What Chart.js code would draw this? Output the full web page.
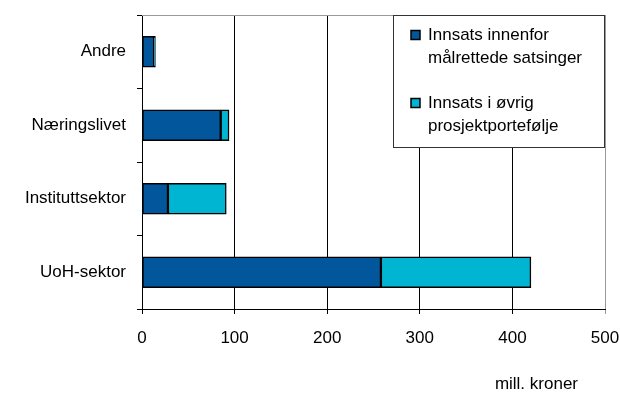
<!DOCTYPE html>
<html lang="no">
<head>
  <meta charset="UTF-8">
  <title>Innsats per sektor</title>
  <style>
    body {
      margin: 0;
      padding: 0;
      background: #fff;
    }

    #wrap {
      width: 620px;
      height: 394px;
      position: relative;
    }
  </style>
</head>
<body>
  <div id="wrap">
    <canvas id="chart" width="620" height="394"></canvas>
  </div>

  <script src="https://cdn.jsdelivr.net/npm/chart.js"></script>
  <script>
    // verdier lest av figuren (mill. kroner)
    const sektorer = ['Andre', 'Næringslivet', 'Instituttsektor', 'UoH-sektor'];
    const innenfor = [13, 85, 28, 258];
    const ovrig = [1.5, 9, 63, 162];
    const serieNavn = [['Innsats innenfor', 'målrettede satsinger'], ['Innsats i øvrig', 'prosjektportefølje']];
    const enhet = 'mill. kroner';

    const darkBlue = '#02569b';
    const cyan = '#00b5d1';
    const font = { family: "'Liberation Sans', Arial, sans-serif", size: 17 };

    // legend-boks og enhetstekst tegnes selv
    const extras = {
      id: 'extras',
      beforeDatasetsDraw(chart) {
        const { ctx, chartArea: a } = chart;
        ctx.save();
        ctx.strokeStyle = '#999';
        ctx.lineWidth = 1;
        ctx.beginPath();
        ctx.moveTo(a.left, a.top + 0.5);
        ctx.lineTo(a.right, a.top + 0.5);
        ctx.stroke();
        ctx.restore();
      },
      afterDraw(chart) {
        const { ctx, chartArea: a } = chart;
        ctx.save();
        const bx = a.right - 212, by = a.top, bw = 212, bh = 133;
        ctx.fillStyle = '#fff';
        ctx.fillRect(bx, by, bw, bh);
        ctx.strokeStyle = '#333';
        ctx.lineWidth = 1;
        ctx.strokeRect(bx + 0.5, by + 0.5, bw - 1, bh - 1);

        ctx.font = font.size + 'px ' + font.family;
        ctx.textBaseline = 'middle';
        ctx.textAlign = 'left';
        chart.data.datasets.forEach((ds, i) => {
          const y0 = by + 20 + i * 68;
          ctx.fillStyle = ds.backgroundColor;
          ctx.fillRect(bx + 18, y0 - 4.5, 9, 9);
          ctx.strokeStyle = '#000';
          ctx.lineWidth = 1.5;
          ctx.strokeRect(bx + 18, y0 - 4.5, 9, 9);
          ctx.fillStyle = '#000';
          serieNavn[i].forEach((line, j) => {
            ctx.fillText(line, bx + 35, y0 + j * 23);
          });
        });

        ctx.textAlign = 'right';
        ctx.textBaseline = 'alphabetic';
        ctx.fillText(enhet, a.right - 27, 389);
        ctx.restore();
      }
    };

    new Chart(document.getElementById('chart'), {
      type: 'bar',
      data: {
        labels: sektorer,
        datasets: [
          {
            label: serieNavn[0].join(' '),
            data: innenfor,
            backgroundColor: darkBlue,
            borderColor: '#000',
            borderWidth: 1.5,
            borderSkipped: false,
            barThickness: 31
          },
          {
            label: serieNavn[1].join(' '),
            data: ovrig,
            backgroundColor: cyan,
            borderColor: '#000',
            borderWidth: 1.5,
            borderSkipped: false,
            barThickness: 31
          }
        ]
      },
      options: {
        indexAxis: 'y',
        responsive: false,
        animation: false,
        layout: { padding: { top: 15, right: 15, left: 0, bottom: 0 } },
        plugins: {
          legend: { display: false },
          tooltip: { enabled: false }
        },
        scales: {
          x: {
            stacked: true,
            min: 0,
            max: 500,
            afterFit(scale) {
              scale.height = 85;
              scale.paddingLeft = 0;
              scale.paddingRight = 0;
            },
            ticks: { stepSize: 100, color: '#000', font: font, padding: 14 },
            grid: {
              color: (c) => (c.tick && c.tick.value === 500 ? '#999' : '#000'),
              tickLength: 5
            },
            border: { color: '#000', width: 1 }
          },
          y: {
            stacked: true,
            afterFit(scale) {
              scale.width = 142;
              scale.paddingTop = 0;
              scale.paddingBottom = 0;
            },
            ticks: { color: '#000', font: font, padding: 11 },
            grid: { drawOnChartArea: false, color: '#000', tickLength: 5, offset: true },
            border: { color: '#000', width: 1 }
          }
        }
      },
      plugins: [extras]
    });
  </script>
</body>
</html>
